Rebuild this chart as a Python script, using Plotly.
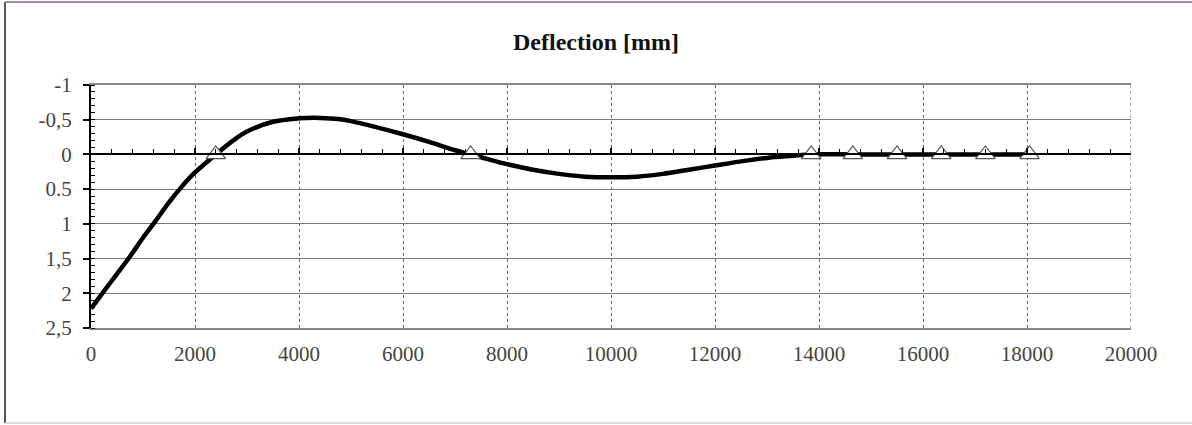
import plotly.graph_objects as go

# ---- data ----
x_pos = [0, 250, 500, 750, 1000, 1250, 1500, 1750, 2000, 2400, 2750, 3000, 3500,
         4000, 4300, 4750, 5000, 5500, 6000, 6500, 7000, 7300, 7500, 8000, 8500,
         9000, 9500, 10000, 10500, 11000, 11500, 12000, 12500, 13000, 13500,
         13850, 14650, 15500, 16350, 17200, 18050]
deflection = [2.22, 1.97, 1.72, 1.47, 1.20, 0.95, 0.69, 0.46, 0.26, 0.0, -0.21, -0.33,
              -0.47, -0.52, -0.53, -0.51, -0.48, -0.39, -0.29, -0.18, -0.06, 0.0,
              0.04, 0.14, 0.22, 0.28, 0.32, 0.33, 0.32, 0.28, 0.22, 0.16, 0.10,
              0.05, 0.02, 0.0, 0.0, 0.0, 0.0, 0.0, 0.0]
support_x = [2400, 7300, 13850, 14650, 15500, 16350, 17200, 18050]
support_y = [0, 0, 0, 0, 0, 0, 0, 0]

x_ticks = [0, 2000, 4000, 6000, 8000, 10000, 12000, 14000, 16000, 18000, 20000]
x_ticktext = ["0", "2000", "4000", "6000", "8000", "10000", "12000", "14000",
              "16000", "18000", "20000"]
y_tickvals = [-1, -0.5, 0, 0.5, 1, 1.5, 2, 2.5]
y_ticktext = ["-1", "-0,5", "0", "0.5", "1", "1,5", "2", "2,5"]

FONT = "Liberation Serif"

fig = go.Figure()
fig.add_trace(go.Scatter(
    x=x_pos, y=deflection, mode="lines",
    line=dict(color="black", width=4.5, shape="spline", smoothing=0.9),
    xaxis="x", yaxis="y", showlegend=False, hoverinfo="skip"))
fig.add_trace(go.Scatter(
    x=support_x, y=support_y, mode="markers",
    marker=dict(symbol="triangle-up", size=17, color="white",
                line=dict(color="#555555", width=1.2)),
    xaxis="x2", yaxis="y", showlegend=False, hoverinfo="skip"))

fig.update_layout(
    width=1192, height=425,
    margin=dict(l=91, r=61, t=85, b=97),
    paper_bgcolor="white", plot_bgcolor="white",
    font=dict(family=FONT, size=21, color="#444444"),
    title=dict(text="<b>Deflection [mm]</b>", x=0.5, xref="container",
               xanchor="center", y=1 - 42 / 425, yref="container", yanchor="middle",
               font=dict(family=FONT, size=24, color="#111111")),
    xaxis=dict(range=[0, 20000], tickvals=x_ticks, ticktext=x_ticktext,
               showgrid=True, griddash="dot",
               gridcolor="#666666", gridwidth=1, zeroline=False, showline=True,
               linecolor="#888888", linewidth=1.5, ticks="outside", ticklen=0,
               ticklabelstandoff=6, mirror=True),
    xaxis2=dict(range=[0, 20000], overlaying="x", anchor="free",
                position=2.5 / 3.5, side="bottom", showticklabels=False,
                showgrid=False, zeroline=False, showline=True, linecolor="black",
                linewidth=2, ticks="inside", tickvals=x_ticks, ticklen=5,
                tickcolor="black", tickwidth=1.5,
                minor=dict(dtick=400, tick0=0, ticks="inside", ticklen=4,
                           tickcolor="black", tickwidth=1.2, showgrid=False)),
    yaxis=dict(range=[2.5, -1], tickvals=y_tickvals, ticktext=y_ticktext,
               showgrid=True, gridcolor="#777777", gridwidth=1, zeroline=False,
               showline=True, linecolor="black", linewidth=2, ticks="outside",
               ticklen=6, tickcolor="black", tickwidth=1.5, ticklabelstandoff=7,
               minor=dict(dtick=0.1, tick0=0, ticks="inside", ticklen=4,
                          tickcolor="black", tickwidth=1.2, showgrid=False)),
)

# dotted right edge of the plot area (last vertical grid line)
fig.add_shape(type="line", xref="x", yref="paper",
              x0=x_ticks[-1], x1=x_ticks[-1], y0=0, y1=1,
              line=dict(color="#666666", width=1, dash="dot"))

# outer frame of the figure (left, top, bottom edges)
fig.add_shape(type="line", xref="paper", yref="paper",
              x0=(5 - 91) / 1040, x1=(5 - 91) / 1040,
              y0=(328 - 423) / 243, y1=(328 - 2) / 243,
              line=dict(color="#555555", width=2))
fig.add_shape(type="line", xref="paper", yref="paper",
              x0=(5 - 91) / 1040, x1=(1192 - 91) / 1040,
              y0=(328 - 2) / 243, y1=(328 - 2) / 243,
              line=dict(color="#a08cb0", width=2))
fig.add_shape(type="line", xref="paper", yref="paper",
              x0=(5 - 91) / 1040, x1=(1192 - 91) / 1040,
              y0=(328 - 423) / 243, y1=(328 - 423) / 243,
              line=dict(color="#cfcfcf", width=1.5))

fig.write_html("out.html", config={"displayModeBar": False},
               post_script="document.body.style.margin='0';document.body.style.overflow='hidden';")
